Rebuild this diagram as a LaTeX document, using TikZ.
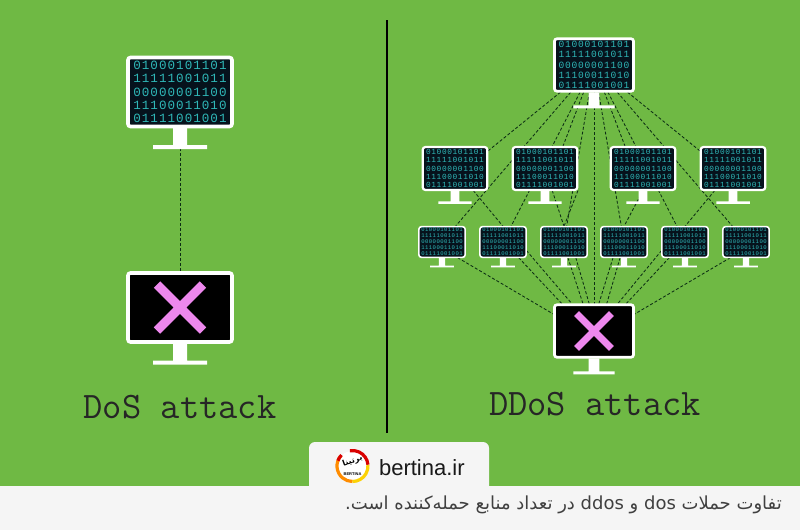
\documentclass[tikz,border=0pt]{standalone}
\usepackage{fontspec}
\newfontfamily\bitfont[LetterSpace=8]{Liberation Mono}
\newfontfamily\sitefont{Liberation Sans}
\newfontfamily\arabicfont[Script=Arabic]{DejaVu Sans}
\setmonofont{Latin Modern Mono}
\TeXXeTstate=1
\usetikzlibrary{backgrounds}
\definecolor{grass}{HTML}{6FB944}
\definecolor{wirecol}{HTML}{0C2E14}
\definecolor{bitcol}{HTML}{2FB8B8}
\definecolor{crosscol}{HTML}{EE88EE}
\definecolor{stripcol}{HTML}{F5F5F5}
\definecolor{panelcol}{HTML}{06121C}
\tikzset{
  screen/.style={draw=white,fill=#1,rounded corners=2.5,minimum width=104,minimum height=69,inner sep=0,
    text=bitcol,align=center,font=\bitfont\fontsize{12.6}{13.4}\selectfont},
  wire/.style={draw=wirecol,line width=.85pt,dash pattern=on 3pt off 2pt},
  title/.style={font=\ttfamily\fontsize{37.4}{40}\selectfont,text=black!85}
}
\newcommand{\stand}[3]{\fill[white,shift={(#1,#2)},scale=#3] (-7,36) rectangle (7,54) (-27,53) rectangle (27,57);}
\newcommand{\monitor}[4]{
  \node [screen=panelcol,scale=#4,line width=#4*3.6pt] (#1) at (#2,#3) {01000101101\\11111001011\\00000001100\\11100011010\\01111001001};
  \stand{#2}{#3}{#4}
}
\newcommand{\victim}[4]{
  \node [screen=black,scale=#4,line width=#4*3.6pt] (#1) at (#2,#3) {};
  \stand{#2}{#3}{#4}
  \draw [crosscol,line width=#4*9pt,shift={(#2,#3)},scale=#4] (-23,-23) -- (23,23) (-23,23) -- (23,-23);
}
\begin{document}
\begin{tikzpicture}[x=1pt,y=-1pt]
  \useasboundingbox (0,0) rectangle (800,530);
  % dos side
  \monitor{src}{180}{92}{1}
  \victim{dst}{180}{307.5}{1}
  \node [title] (doslabel) at (180,407) {DoS attack};
  % ddos side
  \monitor{top}{594}{65}{.76}
  \monitor{ra}{455}{168.5}{.62}
  \monitor{rb}{545}{168.5}{.62}
  \monitor{rc}{643}{168.5}{.62}
  \monitor{rd}{733}{168.5}{.62}
  \monitor{sa}{442}{242}{.444}
  \monitor{sb}{503}{242}{.444}
  \monitor{sc}{564}{242}{.444}
  \monitor{sd}{624}{242}{.444}
  \monitor{se}{685}{242}{.444}
  \monitor{sf}{746}{242}{.444}
  \victim{hit}{594}{331}{.76}
  \coordinate (low) at (594,338);
  \node [title] (ddoslabel) at (595,404) {DDoS attack};
  % footer
  \node [font=\sitefont\fontsize{22}{24}\selectfont,text=black!90,anchor=west] (site) at (375.5,467.5) {bertina.ir};
  \node [circle,fill=white,minimum size=30,inner sep=0] (logo) at (352.5,466) {};
  \draw [line width=3.2pt,orange!90!yellow] (logo.center) ++(220:15.5) arc (220:90:15.5);
  \draw [line width=3.2pt,yellow!70!orange] (logo.center) ++(90:15.5) arc (90:-5:15.5);
  \draw [line width=3.2pt,red!85!black] (logo.center) ++(-5:15.5) arc (-5:-100:15.5);
  \draw [line width=3.2pt,red!85!black] (logo.center) ++(200:15.5) arc (200:225:15.5);
  \node [font=\arabicfont\fontsize{8}{8}\selectfont\bfseries,rotate=20] (logotext) at (352.5,461) {\beginR برتینا\endR};
  \node [font=\sitefont\fontsize{4}{4}\selectfont\bfseries,fill=white,inner sep=.3] (logoname) at (352.5,474) {BERTINA};
  \node [font=\arabicfont\fontsize{18}{20}\selectfont,text=black!75,anchor=east,inner sep=0] (caption) at (782,505) {\beginR تفاوت حملات \beginL dos\endL{} و \beginL ddos\endL{} در تعداد منابع حمله‌کننده است.\endR};
  \begin{pgfonlayer}{background}
    \fill [grass] (0,0) rectangle (800,530);
    \fill [stripcol,rounded corners=6] (309,500) -- (309,442) -- (489,442) -- (489,500) -- cycle;
    \fill [stripcol] (0,486) rectangle (800,530);
    \fill [black] (386,20) rectangle (388,433);
    \draw [wire] (src) -- (dst);
    \draw [wire] (top) -- (ra.28);
    \draw [wire] (top) -- (sa);
    \draw [wire] (top) -- (sb);
    \draw [wire] (top) -- (rb.51);
    \draw [wire] (top) -- (sc);
    \draw [wire] (top) -- (hit);
    \draw [wire] (top) -- (sd);
    \draw [wire] (top) -- (rc.129);
    \draw [wire] (top) -- (se);
    \draw [wire] (top) -- (sf);
    \draw [wire] (top) -- (rd.152);
    \draw [wire] (ra) -- (sb.north);
    \draw [wire] (rb) -- (sc.north);
    \draw [wire] (rb.south east) -- (sc.north);
    \draw [wire] (rc.south) -- (sd.north);
    \draw [wire] (rd) -- (se.north);
    \draw [wire] (sa.-45) -- (low);
    \draw [wire] (sb.-45) -- (low);
    \draw [wire] (sb.-20) -- (hit.129);
    \draw [wire] (sc.-76) -- (hit.112);
    \draw [wire] (sc.-53) -- (hit.100);
    \draw [wire] (sd.-125) -- (hit.80);
    \draw [wire] (sd.-104) -- (hit.65);
    \draw [wire] (se.-160) -- (hit.49);
    \draw [wire] (se.-135) -- (low);
    \draw [wire] (sf.-135) -- (low);
  \end{pgfonlayer}
\end{tikzpicture}
\end{document}
